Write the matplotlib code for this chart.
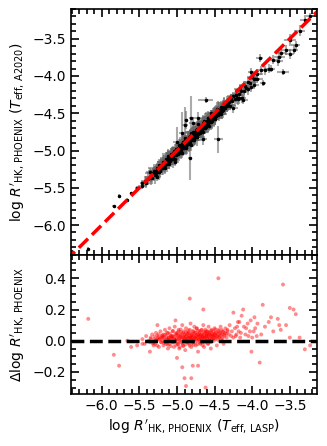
import numpy as np
import matplotlib.pyplot as plt
from matplotlib.ticker import MultipleLocator

# log R'HK from T_eff(LASP) and the residual dlog = LASP - A2020
x_core = [
    -5.46, -5.43,
    -5.41, -5.38,
    -5.36, -5.35, -5.33, -5.31,
    -5.30, -5.29, -5.28, -5.27, -5.26,
    -5.25, -5.24, -5.23, -5.22, -5.21, -5.20,
    -5.19, -5.18, -5.18, -5.17, -5.16, -5.15, -5.14,
    -5.13, -5.12, -5.12, -5.11, -5.10, -5.10, -5.09, -5.08,
    -5.07, -5.06, -5.06, -5.05, -5.04, -5.04, -5.03, -5.02, -5.01,
    -5.00, -5.00, -4.99, -4.98, -4.98, -4.97, -4.96, -4.96, -4.95, -4.94, -4.93,
    -4.92, -4.92, -4.91, -4.90, -4.90, -4.89, -4.88, -4.88, -4.87, -4.86, -4.86, -4.85,
    -4.84, -4.84, -4.83, -4.82, -4.82, -4.81, -4.80, -4.80, -4.79, -4.78, -4.78, -4.77,
    -4.76, -4.76, -4.75, -4.74, -4.74, -4.73, -4.72, -4.72, -4.71, -4.70, -4.70, -4.69,
    -4.68, -4.68, -4.67, -4.66, -4.66, -4.65, -4.64, -4.64, -4.63, -4.62, -4.62, -4.61,
    -4.60, -4.60, -4.59, -4.58, -4.58, -4.57, -4.56, -4.55, -4.55, -4.54, -4.53,
    -4.52, -4.52, -4.51, -4.50, -4.50, -4.49, -4.48, -4.47, -4.46, -4.45,
    -4.44, -4.43, -4.42, -4.41, -4.40, -4.39, -4.38, -4.37,
    -4.36, -4.34, -4.33, -4.31, -4.30, -4.28,
    -4.27, -4.25, -4.23, -4.21, -4.19,
]
d_core = [
    0.01, -0.02,
    0.03, 0.00,
    -0.01, 0.02, 0.04, -0.03,
    0.01, -0.02, 0.05, 0.00, 0.03,
    0.02, -0.04, 0.01, 0.06, -0.01, 0.03,
    0.00, 0.04, -0.03, 0.02, 0.07, -0.01, 0.03,
    0.01, -0.05, 0.05, 0.02, -0.02, 0.08, 0.00, 0.03,
    0.02, -0.01, 0.06, 0.03, -0.04, 0.01, 0.09, 0.00, 0.04,
    0.01, 0.05, -0.02, 0.03, 0.07, -0.05, 0.02, 0.00, 0.04, -0.01, 0.10,
    0.02, -0.03, 0.06, 0.01, 0.04, -0.06, 0.03, 0.08, -0.01, 0.05, 0.00, 0.02,
    0.03, -0.02, 0.07, 0.01, 0.11, -0.04, 0.04, 0.02, -0.01, 0.06, 0.00, 0.09,
    0.02, 0.05, -0.03, 0.03, 0.08, 0.00, 0.04, -0.07, 0.01, 0.06, 0.03, -0.02,
    0.04, 0.01, 0.07, -0.01, 0.03, 0.10, 0.02, -0.04, 0.05, 0.00, 0.06, 0.03,
    0.02, 0.06, -0.02, 0.04, 0.09, 0.01, 0.05, -0.05, 0.03, 0.07, 0.01,
    0.03, 0.06, 0.00, 0.04, 0.08, 0.02, 0.05, -0.03, 0.03, 0.07,
    0.02, 0.05, 0.09, 0.01, 0.04, 0.06, -0.02, 0.03,
    0.05, 0.02, 0.07, 0.04, 0.10, 0.03,
    0.06, 0.02, 0.08, 0.04, 0.12,
]
xerr_core = [
    .06, .05,
    .07, .05,
    .06, .08, .05, .07,
    .05, .08, .06, .07, .05,
    .07, .05, .09, .06, .05, .08,
    .06, .08, .05, .07, .06, .09, .05,
    .07, .06, .08, .05, .09, .06, .07, .05,
    .06, .08, .05, .07, .09, .06, .05, .08, .07,
    .05, .07, .09, .06, .08, .05, .07, .06, .10, .05, .08,
    .07, .05, .08, .06, .09, .05, .07, .06, .08, .05, .07, .09,
    .06, .08, .05, .07, .06, .09, .05, .08, .06, .07, .05, .08,
    .07, .05, .09, .06, .08, .05, .07, .06, .08, .05, .09, .06,
    .06, .08, .05, .07, .09, .06, .05, .08, .07, .06, .09, .05,
    .07, .05, .08, .06, .09, .05, .07, .08, .06, .05, .07,
    .06, .08, .05, .07, .06, .09, .05, .07, .08, .06,
    .07, .05, .08, .06, .09, .05, .07, .06,
    .08, .06, .07, .05, .09, .06,
    .07, .08, .06, .09, .07,
]
yerr_core = [
    .05, .07,
    .06, .08,
    .07, .05, .08, .06,
    .08, .06, .05, .09, .07,
    .05, .08, .06, .07, .09, .05,
    .07, .05, .09, .06, .08, .05, .07,
    .06, .09, .05, .08, .06, .07, .05, .09,
    .08, .05, .07, .06, .05, .09, .07, .06, .08,
    .07, .09, .05, .08, .06, .07, .09, .05, .06, .08, .07,
    .05, .08, .07, .09, .06, .08, .05, .09, .07, .06, .08, .05,
    .08, .06, .09, .05, .08, .07, .06, .05, .09, .08, .06, .07,
    .06, .09, .07, .08, .05, .09, .06, .08, .05, .07, .06, .08,
    .09, .05, .08, .06, .07, .08, .09, .06, .05, .08, .07, .06,
    .05, .08, .06, .09, .07, .06, .08, .05, .09, .06, .08,
    .08, .06, .09, .05, .08, .07, .06, .09, .05, .07,
    .06, .08, .05, .09, .07, .06, .08, .07,
    .07, .09, .06, .08, .06, .07,
    .08, .06, .09, .07, .08,
]

# second batch of the dense middle of the cloud
x_core2 = [
    -5.348, -5.322, -5.297, -5.281, -5.263, -5.244, -5.229, -5.213, -5.198, -5.186,
    -5.172, -5.158, -5.147, -5.133, -5.121, -5.109, -5.094, -5.083, -5.071, -5.062,
    -5.053, -5.047, -5.038, -5.029, -5.017, -5.011, -5.004, -4.996, -4.987, -4.979,
    -4.972, -4.964, -4.958, -4.951, -4.943, -4.937, -4.929, -4.922, -4.914, -4.908,
    -4.901, -4.895, -4.887, -4.881, -4.874, -4.867, -4.861, -4.853, -4.847, -4.839,
    -4.832, -4.826, -4.819, -4.813, -4.806, -4.799, -4.793, -4.787, -4.779, -4.773,
    -4.767, -4.761, -4.754, -4.748, -4.741, -4.735, -4.728, -4.722, -4.716, -4.709,
    -4.703, -4.697, -4.691, -4.684, -4.678, -4.672, -4.665, -4.659, -4.653, -4.646,
    -4.641, -4.634, -4.628, -4.622, -4.616, -4.609, -4.603, -4.597, -4.591, -4.584,
    -4.578, -4.572, -4.566, -4.559, -4.553, -4.547, -4.541, -4.534, -4.528, -4.521,
    -4.514, -4.507, -4.499, -4.492, -4.485, -4.478, -4.469, -4.461, -4.453, -4.444,
    -4.436, -4.427, -4.417, -4.406, -4.394, -4.383, -4.371, -4.356, -4.342, -4.327,
    -4.984, -4.947, -4.916, -4.871, -4.842, -4.809, -4.781, -4.752, -4.719, -4.687,
    -4.662, -4.631, -4.606, -4.573, -5.082, -5.116, -5.141, -5.203, -5.257, -5.306,
]
d_core2 = [
    0.012, -0.018, 0.027, 0.004, -0.031, 0.041, 0.015, -0.008, 0.033, 0.022,
    -0.014, 0.038, 0.007, 0.052, -0.026, 0.019, 0.044, -0.035, 0.011, 0.029,
    0.063, -0.012, 0.024, 0.005, 0.047, -0.028, 0.017, 0.036, -0.006, 0.058,
    0.013, -0.041, 0.031, 0.072, 0.008, 0.026, -0.017, 0.049, 0.021, -0.003,
    0.037, 0.016, -0.024, 0.057, 0.028, 0.004, 0.043, -0.011, 0.066, 0.019,
    -0.032, 0.024, 0.046, 0.009, 0.035, -0.015, 0.061, 0.027, 0.002, 0.041,
    0.018, -0.009, 0.053, 0.032, 0.011, 0.078, -0.022, 0.039, 0.025, 0.006,
    0.048, 0.021, -0.013, 0.034, 0.067, 0.014, 0.042, -0.029, 0.026, 0.055,
    0.008, 0.036, 0.019, 0.071, -0.004, 0.045, 0.028, 0.012, 0.059, -0.018,
    0.033, 0.052, 0.016, 0.038, -0.008, 0.064, 0.024, 0.043, 0.007, 0.031,
    0.047, 0.019, 0.036, 0.072, 0.011, 0.054, 0.028, 0.041, 0.005, 0.062,
    0.025, 0.048, 0.034, 0.069, 0.017, 0.056, 0.038, 0.079, 0.045, 0.061,
    -0.022, 0.054, -0.035, 0.012, 0.048, 0.021, -0.026, 0.014, 0.063, -0.006,
    0.022, -0.012, 0.039, 0.003, 0.027, 0.009, -0.021, 0.018, 0.008, -0.011,
]
xerr_core2 = [
    .08, .11, .07, .09, .12, .06, .10, .08, .11, .07,
    .09, .07, .12, .08, .10, .06, .09, .11, .07, .10,
    .08, .10, .06, .12, .09, .07, .11, .08, .10, .06,
    .11, .07, .09, .08, .12, .10, .06, .09, .07, .11,
    .07, .10, .08, .11, .06, .09, .12, .07, .10, .08,
    .10, .06, .11, .08, .09, .07, .12, .10, .06, .09,
    .08, .12, .07, .10, .09, .11, .06, .08, .12, .07,
    .09, .07, .11, .06, .10, .08, .09, .12, .07, .10,
    .11, .08, .06, .10, .07, .12, .09, .06, .11, .08,
    .07, .09, .12, .08, .11, .06, .10, .07, .09, .12,
    .10, .06, .09, .11, .07, .08, .12, .10, .06, .09,
    .08, .11, .07, .09, .12, .10, .06, .08, .11, .07,
    .09, .12, .08, .06, .10, .07, .11, .09, .08, .10,
    .06, .10, .09, .12, .07, .11, .08, .06, .10, .09,
]
yerr_core2 = [
    .10, .07, .12, .08, .06, .11, .09, .07, .10, .12,
    .07, .11, .08, .10, .09, .12, .06, .08, .11, .09,
    .12, .08, .10, .07, .11, .09, .06, .12, .08, .10,
    .06, .10, .11, .09, .07, .08, .12, .10, .11, .07,
    .11, .09, .07, .12, .10, .06, .08, .11, .09, .12,
    .08, .12, .09, .06, .11, .10, .07, .09, .12, .08,
    .10, .07, .11, .09, .08, .12, .10, .06, .09, .11,
    .07, .10, .08, .12, .06, .09, .11, .10, .08, .07,
    .09, .11, .10, .07, .12, .08, .06, .11, .10, .09,
    .12, .08, .07, .10, .09, .11, .07, .12, .08, .06,
    .08, .10, .12, .07, .11, .09, .08, .06, .12, .10,
    .11, .07, .09, .10, .08, .12, .11, .09, .07, .08,
    .07, .09, .11, .08, .12, .10, .07, .11, .09, .06,
    .10, .12, .06, .09, .11, .07, .10, .08, .12, .11,
]

x_out = [-6.18, -5.84, -5.77, -5.66, -5.61, -5.53, -5.46, -5.36, -5.26, -5.02,
         -5.00, -4.93, -4.90, -4.88, -4.81, -4.83, -4.79, -4.72, -4.65, -4.62,
         -4.45, -4.25, -4.14, -4.12, -4.15, -4.08, -4.05, -4.02, -4.01, -3.98,
         -3.97, -3.93, -3.90, -3.88, -3.86, -3.83, -3.78, -3.75, -3.72, -3.66,
         -3.64, -3.62, -3.59, -3.55, -3.50, -3.50, -3.45, -3.42, -3.37, -3.30,
         -3.23,
         -4.22, -4.20, -4.18, -4.17, -4.16, -4.11, -4.09, -4.06, -4.03, -4.00,
         -3.96, -3.94]
d_out = [0.14, -0.09, -0.16, 0.00, -0.04, -0.03, -0.02, -0.07, 0.10, 0.13,
         -0.11, -0.17, -0.24, -0.29, -0.24, 0.27, -0.16, -0.16, 0.20, -0.30,
         0.40, 0.18, 0.16, 0.20, 0.05, 0.08, 0.03, 0.13, -0.07, 0.06,
         0.15, 0.11, -0.14, 0.04, 0.23, 0.09, 0.12, 0.15, 0.06, 0.14,
         0.10, 0.07, 0.36, 0.10, 0.02, 0.21, 0.20, 0.17, 0.02, -0.055,
         -0.03,
         0.03, 0.09, 0.06, 0.12, 0.02, 0.09, 0.04, 0.11, 0.06, 0.02,
         0.08, 0.03]
xerr_out = [.02, .02, .02, .02, .02, .03, .03, .05, .05, .05,
            .05, .04, .04, .03, .03, .03, .05, .05, .05, .10,
            .06, .06, .06, .06, .07, .06, .07, .06, .05, .06,
            .06, .07, .05, .06, .04, .06, .06, .05, .06, .07,
            .07, .07, .08, .07, .08, .06, .06, .06, .07, .06,
            .05,
            .08, .07, .09, .06, .08, .07, .09, .06, .08, .07,
            .06, .08]
yerr_out = [.02, .02, .02, .02, .02, .03, .03, .05, .05, .06,
            .20, .28, .25, .12, .30, .30, .08, .08, .07, .04,
            .18, .06, .06, .06, .06, .07, .06, .06, .05, .06,
            .06, .05, .05, .06, .04, .06, .06, .05, .06, .07,
            .07, .07, .04, .07, .08, .06, .06, .06, .07, .06,
            .05,
            .07, .09, .06, .08, .07, .09, .06, .08, .07, .06,
            .08, .07]

x_lasp = np.array(x_core + x_core2 + x_out)
dlog = np.array(d_core + d_core2 + d_out)
xerr = np.array(xerr_core + xerr_core2 + xerr_out)
yerr = np.array(yerr_core + yerr_core2 + yerr_out)
y_a2020 = x_lasp - dlog

plt.rcParams['font.size'] = 10

fig = plt.figure(figsize=(3.27, 4.46), dpi=100)
gs = fig.add_gridspec(2, 1, height_ratios=[246, 139], hspace=0,
                      left=0.217, right=0.969, top=0.980, bottom=0.117)
ax = fig.add_subplot(gs[0])
ax2 = fig.add_subplot(gs[1], sharex=ax)

ax.errorbar(x_lasp, y_a2020, xerr=xerr, yerr=yerr, fmt='none',
            ecolor='0.4', elinewidth=1.5, alpha=0.55)
ax.plot(x_lasp, y_a2020, '.', color='k', markersize=3)
ax.plot([-7, -3], [-7, -3], 'r--', lw=2.5)
ax.set_xlim(-6.41, -3.14)
ax.set_ylim(-6.4, -3.1)
ax.set_ylabel(r"log $R'_{\rm HK,\,PHOENIX}$ ($T_{\rm eff,\,A2020}$)")

ax2.scatter(x_lasp, dlog, s=8, color='red', alpha=0.45, edgecolors='none')
ax2.axhline(0, color='k', ls='--', lw=2.5)
ax2.set_ylim(-0.34, 0.55)
ax2.set_xlabel(r"log $R'_{\rm HK,\,PHOENIX}$ ($T_{\rm eff,\,LASP}$)")
ax2.set_ylabel(r"$\Delta$log $R'_{\rm HK,\,PHOENIX}$")

ax.xaxis.set_major_locator(MultipleLocator(0.5))
ax.xaxis.set_minor_locator(MultipleLocator(0.1))
ax.yaxis.set_major_locator(MultipleLocator(0.5))
ax.yaxis.set_minor_locator(MultipleLocator(0.1))
ax2.yaxis.set_major_locator(MultipleLocator(0.2))
ax2.yaxis.set_minor_locator(MultipleLocator(0.05))
for a in (ax, ax2):
    a.tick_params(which='both', direction='in', top=True, right=True, width=1.2)
    a.tick_params(which='major', length=6)
    a.tick_params(which='minor', length=3.5)
    for s in a.spines.values():
        s.set_linewidth(1.2)
ax.tick_params(labelbottom=False)

fig.savefig('out.png', dpi=100)
